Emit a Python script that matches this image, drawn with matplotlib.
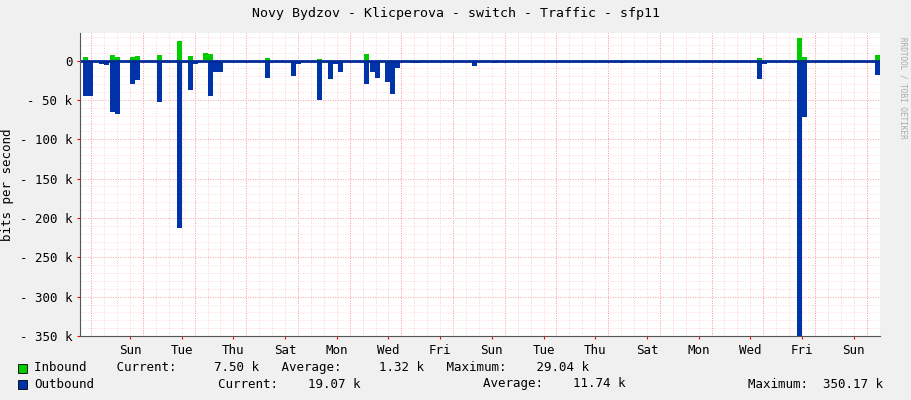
import numpy as np
import matplotlib
matplotlib.use("Agg")
import matplotlib.pyplot as plt

# spikes: hour offset from chart start, value (bits/s)
out_hours = [2.8,7.4,17.6,22.2,27.8,32.4,46.4,51.0,71.4,90.0,100.2,105.0,118.8,123.4,128.0,171.8,195.8,200.6,220.0,230.2,235.0,239.6,263.6,269.2,273.8,283.2,287.8,292.4,306.4,311.0,364.0,383.4,501.4,571.0,628.6,633.2,665.6,670.4,699.0,738.0]
out_vals = [45e3,45e3,5e3,6e3,65e3,68e3,30e3,25e3,53e3,213e3,37e3,5e3,45e3,15e3,15e3,22e3,20e3,5e3,50e3,23e3,5e3,15e3,30e3,15e3,22e3,27e3,43e3,10e3,3e3,3e3,7e3,3e3,3e3,2e3,23e3,5e3,350e3,72e3,2e3,18e3]
in_hours = [2.8,27.8,32.4,46.4,51.0,71.4,90.0,100.2,114.0,118.8,171.8,220.0,263.6,628.6,665.6,670.4,738.0]
in_vals = [5e3,7e3,5e3,5e3,6e3,7e3,25e3,6e3,10e3,8e3,3e3,2e3,8e3,3e3,29e3,5e3,7e3]
day_labels = ["Sun","Tue","Thu","Sat","Mon","Wed","Fri","Sun","Tue","Thu","Sat","Mon","Wed","Fri","Sun"]
first_midnight = 34.4
total_hours = 742.8
step = 4.6

fig = plt.figure(figsize=(9.11,4.0), dpi=100, facecolor="#F0F0F0")
ax = fig.add_axes([80/911, 1-336/400, 800/911, 303/400], facecolor="white")

ax.bar(out_hours, [-v for v in out_vals], width=step, align="edge", color="#0033AA", linewidth=0)
ax.bar(in_hours, in_vals, width=step, align="edge", color="#00CC00", linewidth=0)
ax.axhline(0, color="#002A97", lw=2)

ax.set_xlim(0, total_hours)
ax.set_ylim(-350e3, 35e3)
for h in np.arange(first_midnight-24, total_hours, 12):
    if h > 0:
        ax.axvline(h, color="#FFBBBB", lw=0.6, ls=(0,(1,2)), zorder=0)
for k in range(-1, 32, 2):
    h = first_midnight + 24*k
    if 0 < h < total_hours:
        ax.axvline(h, color="#FF8888", lw=0.6, ls=(0,(1,2)), zorder=0)
for y in np.arange(-350e3, 35e3, 10e3):
    ax.axhline(y, color="#FFCCCC", lw=0.6, ls=(0,(1,2)), zorder=0)
for y in np.arange(-350e3, 1, 50e3):
    ax.axhline(y, color="#FF9999", lw=0.6, ls=(0,(1,2)), zorder=0)

ticks = [first_midnight + 12 + 48*i for i in range(len(day_labels))]
ax.set_xticks(ticks)
ax.set_xticklabels(day_labels, family="DejaVu Sans Mono", fontsize=9)
yt = np.arange(-350e3, 1, 50e3)
ax.set_yticks(yt)
ax.set_yticklabels([("- %d k" % (-v/1e3)) if v < 0 else "0" for v in yt], family="DejaVu Sans Mono", fontsize=9)
ax.tick_params(length=2, color="#FF0000")
for s in ["top","right"]:
    ax.spines[s].set_visible(False)
for s in ["left","bottom"]:
    ax.spines[s].set_color("#555555")
ax.set_ylabel("bits per second", family="DejaVu Sans Mono", fontsize=9)

fig.text(0.5, 1-14/400, "Novy Bydzov - Klicperova - switch - Traffic - sfp11", ha="center", va="center", family="DejaVu Sans Mono", fontsize=9.5)
fig.text(903/911, 0.78, "RRDTOOL / TOBI OETIKER", rotation=270, ha="center", va="center", family="DejaVu Sans Mono", fontsize=5.5, color="#AAAAAA")

fig.patches.append(plt.Rectangle((18/911, 1-373/400), 9/911, 9/400, transform=fig.transFigure, facecolor="#00CC00", edgecolor="black", lw=0.6))
fig.patches.append(plt.Rectangle((18/911, 1-389/400), 9/911, 9/400, transform=fig.transFigure, facecolor="#0033AA", edgecolor="black", lw=0.6))
mono = dict(family="DejaVu Sans Mono", fontsize=9, va="center")
fig.text(34/911, 1-368/400, "Inbound    Current:     7.50 k   Average:     1.32 k   Maximum:    29.04 k", **mono)
fig.text(34/911, 1-384/400, "Outbound", **mono)
fig.text(218/911, 1-384/400, "Current:    19.07 k", **mono)
fig.text(483/911, 1-384/400, "Average:    11.74 k", **mono)
fig.text(748/911, 1-384/400, "Maximum:  350.17 k", **mono)

fig.savefig("out.png", dpi=100, facecolor=fig.get_facecolor())
